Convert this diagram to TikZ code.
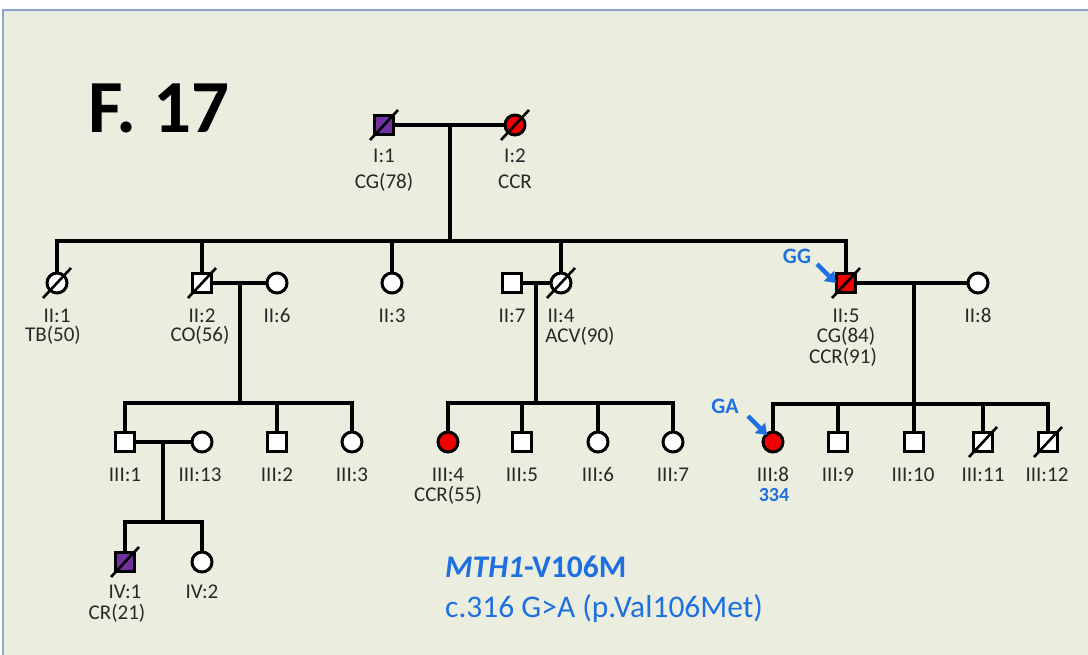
\documentclass[tikz,border=0pt]{standalone}
\usepackage{fontspec}
\setmainfont{Carlito}
\usetikzlibrary{arrows.meta}
\definecolor{bg}{RGB}{235,238,223}
\definecolor{frameblue}{RGB}{140,165,205}
\definecolor{purp}{RGB}{112,48,160}
\definecolor{redf}{RGB}{240,0,0}
\definecolor{txt}{RGB}{40,40,40}
\definecolor{blu}{RGB}{30,112,224}
\tikzset{
 conn/.style={line width=3.2pt, black},
 sym/.style={draw=black, line width=3pt, fill=white, inner sep=0pt},
 male/.style={sym, rectangle, minimum size=19pt},
 female/.style={sym, circle, minimum size=20pt},
 slash/.style={line width=2.6pt, black},
 lab/.style={font=\fontsize{21}{24}\selectfont, text=txt, anchor=base, inner sep=0pt},
 blulab/.style={font=\fontsize{22}{26}\selectfont\bfseries, text=blu, anchor=base, inner sep=0pt},
 barrow/.style={line width=4.5pt, blu, -{Triangle[length=10pt,width=14pt]}},
}
\newcommand\deceased[1]{\draw[slash] ([shift={(-14,15)}]#1.center) -- ([shift={(14,-15)}]#1.center);}
\begin{document}
\begin{tikzpicture}[x=1pt,y=-1pt]
\useasboundingbox (0,0) rectangle (1088,654);
\fill[bg] (3,10) rectangle (1095,660);
\draw[frameblue, line width=2pt] (3,660) -- (3,10) -- (1095,10);

\node[font=\fontsize{75}{80}\selectfont\bfseries, inner sep=0pt] (title) at (159,108) {F. 17};

% Generation I
\node[male, fill=purp] (I1) at (384,125) {};
\node[female, fill=redf] (I2) at (515,125) {};
% Generation II
\node[female] (II1) at (57,283) {};
\node[male] (II2) at (202,283) {};
\node[female] (II6) at (277,283) {};
\node[female] (II3) at (392,283) {};
\node[male] (II7) at (512,283) {};
\node[female] (II4) at (561,283) {};
\node[male, fill=redf] (II5) at (846,283) {};
\node[female] (II8) at (978,283) {};
% Generation III
\node[male] (III1) at (125,442) {};
\node[female] (III13) at (202,442) {};
\node[male] (III2) at (277,442) {};
\node[female] (III3) at (352,442) {};
\node[female, fill=redf] (III4) at (448,442) {};
\node[male] (III5) at (522,442) {};
\node[female] (III6) at (598,442) {};
\node[female] (III7) at (673,442) {};
\node[female, fill=redf] (III8) at (773,442) {};
\node[male] (III9) at (838,442) {};
\node[male] (III10) at (914,442) {};
\node[male] (III11) at (983,442) {};
\node[male] (III12) at (1048,442) {};
% Generation IV
\node[male, fill=purp] (IV1) at (125,562) {};
\node[female] (IV2) at (202,562) {};

% connectors
\coordinate (mI) at (450,125); \coordinate (sI) at (450,241);
\draw[conn] (I1) -- (I2);
\draw[conn] (mI) -- (sI);
\foreach \c in {II1,II2,II3,II4,II5} \draw[conn] (\c) |- (sI);

\coordinate (mA) at (240,283); \coordinate (sA) at (240,403);
\draw[conn] (II2) -- (II6);
\draw[conn] (mA) -- (sA);
\foreach \c in {III1,III2,III3} \draw[conn] (\c) |- (sA);

\coordinate (mB) at (536,283); \coordinate (sB) at (536,403);
\draw[conn] (II7) -- (II4);
\draw[conn] (mB) -- (sB);
\foreach \c in {III4,III5,III6,III7} \draw[conn] (\c) |- (sB);

\coordinate (mC) at (914,283); \coordinate (sC) at (914,404);
\draw[conn] (II5) -- (II8);
\draw[conn] (mC) -- (sC);
\foreach \c in {III8,III9,III10,III11,III12} \draw[conn] (\c) |- (sC);

\coordinate (mD) at (163,442); \coordinate (sD) at (163,522);
\draw[conn] (III1) -- (III13);
\draw[conn] (mD) -- (sD);
\foreach \c in {IV1,IV2} \draw[conn] (\c) |- (sD);

% deceased
\deceased{I1} \deceased{I2} \deceased{II1} \deceased{II2} \deceased{II4}
\deceased{II5} \deceased{III11} \deceased{III12} \deceased{IV1}

% labels
\node[lab] (lI1) at (384,162) {I:1};
\node[lab] (lI1b) at (384,188) {CG(78)};
\node[lab] (lI2) at (515,162) {I:2};
\node[lab] (lI2b) at (515,188) {CCR};
\node[lab] (lII1) at (57,322) {II:1};
\node[lab] (lII1b) at (53,341) {TB(50)};
\node[lab] (lII2) at (202,322) {II:2};
\node[lab] (lII2b) at (200,341) {CO(56)};
\node[lab] (lII6) at (277,322) {II:6};
\node[lab] (lII3) at (392,322) {II:3};
\node[lab] (lII7) at (512,322) {II:7};
\node[lab] (lII4) at (561,322) {II:4};
\node[lab] (lII4b) at (580,342) {ACV(90)};
\node[lab] (lII5) at (846,322) {II:5};
\node[lab] (lII5b) at (846,342) {CG(84)};
\node[lab] (lII5c) at (843,363) {CCR(91)};
\node[lab] (lII8) at (978,322) {II:8};
\node[lab] (lIII1) at (125,481) {III:1};
\node[lab] (lIII13) at (200,481) {III:13};
\node[lab] (lIII2) at (277,481) {III:2};
\node[lab] (lIII3) at (352,481) {III:3};
\node[lab] (lIII4) at (448,481) {III:4};
\node[lab] (lIII4b) at (448,501) {CCR(55)};
\node[lab] (lIII5) at (522,481) {III:5};
\node[lab] (lIII6) at (598,481) {III:6};
\node[lab] (lIII7) at (673,481) {III:7};
\node[lab] (lIII8) at (773,481) {III:8};
\node[lab] (lIII9) at (838,481) {III:9};
\node[lab] (lIII10) at (913,481) {III:10};
\node[lab] (lIII11) at (983,481) {III:11};
\node[lab] (lIII12) at (1047,481) {III:12};
\node[lab] (lIV1) at (125,598) {IV:1};
\node[lab] (lIV1b) at (117,619) {CR(21)};
\node[lab] (lIV2) at (202,598) {IV:2};

% genotype labels and arrows
\node[blulab] (gg) at (797,263) {GG};
\coordinate (ggtail) at (817,264); \coordinate (ggtip) at (836,283);
\draw[barrow] (ggtail) -- (ggtip);
\node[blulab] (ga) at (725,413) {GA};
\coordinate (gatail) at (748,416); \coordinate (gatip) at (767,435);
\draw[barrow] (gatail) -- (gatip);
\node[blulab, font=\fontsize{20}{24}\selectfont\bfseries] (id) at (774,501) {334};

\node[anchor=base west, inner sep=0pt, font=\fontsize{31.5}{36}\selectfont\bfseries, text=blu] (gene) at (445,577) {\textit{MTH1}-V106M};
\node[anchor=base west, inner sep=0pt, font=\fontsize{31.5}{36}\selectfont, text=blu] (mut) at (445,617) {c.316 G>A (p.Val106Met)};
\end{tikzpicture}
\end{document}
